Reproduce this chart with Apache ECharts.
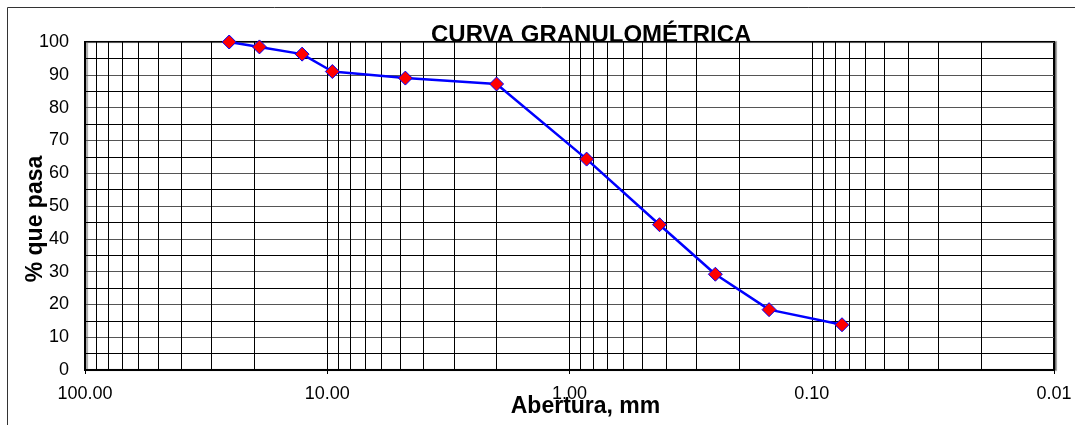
<!DOCTYPE html>
<html>
<head>
<meta charset="utf-8">
<script src="https://cdn.jsdelivr.net/npm/echarts@6/dist/echarts.min.js"></script>
<style>html,body{margin:0;padding:0;background:#fff}#c{width:1075px;height:425px}</style>
</head>
<body>
<div id="c"></div>
<script>
const titleText = 'CURVA GRANULOMÉTRICA';
const xName = 'Abertura, mm';
const yName = '% que pasa';
const sieveSizes = [25.4, 19.05, 12.7, 9.525, 4.76, 2.0, 0.85, 0.425, 0.25, 0.15, 0.075];
const percentPassing = [100, 98.5, 96.3, 91.0, 89.0, 87.2, 64.3, 44.3, 29.2, 18.4, 13.8];
const minorGridValues = [
  0.02,0.03,0.04,0.05,0.06,0.07,0.08,0.09,
  0.2,0.3,0.4,0.5,0.6,0.7,0.8,0.9,
  2,3,4,5,6,7,8,9,
  20,30,40,50,60,70,80,90
];

const FONT = '"Liberation Sans", Arial, sans-serif';
const chart = echarts.init(document.getElementById('c'), null, {renderer:'canvas'});
chart.setOption({
  animation: false,
  backgroundColor: '#fff',
  title: {
    text: titleText,
    left: 426, top: 18,
    textStyle: {fontFamily: FONT, fontWeight: 'bold', fontSize: 24, color: '#000'}
  },
  graphic: [{
    type: 'rect', silent: true, z: -10,
    shape: {x: 7.5, y: 7.5, width: 1200, height: 600},
    style: {fill: 'none', stroke: '#333', lineWidth: 1}
  }],
  grid: {
    left: 85, right: 21, top: 42, bottom: 55,
    outerBoundsMode: 'none', containLabel: false,
    show: true, borderColor: '#000', borderWidth: 2,
    shadowColor: 'rgba(0,0,0,0.35)', shadowOffsetX: 2, shadowOffsetY: 0, shadowBlur: 1,
    backgroundColor: '#fff'
  },
  xAxis: {
    type: 'log', logBase: 10, min: 0.01, max: 100, inverse: true,
    name: xName, nameLocation: 'middle', nameGap: 25, nameMoveOverlap: false,
    nameTextStyle: {fontFamily: FONT, fontWeight: 'bold', fontSize: 23, color: '#000', padding: [0, 0, 0, 32]},
    axisLine: {show: true, lineStyle: {color: '#000', width: 2}},
    axisTick: {show: true, inside: false, length: 4, lineStyle: {color: '#000'}},
    axisLabel: {fontFamily: FONT, fontSize: 18, color: '#000', margin: 15,
      formatter: v => Number(v).toFixed(2)},
    splitLine: {show: true, lineStyle: {color: '#000', width: 1}}
  },
  yAxis: {
    type: 'value', min: 0, max: 100, interval: 10,
    name: yName, nameLocation: 'middle', nameGap: 38, nameRotate: 90, nameMoveOverlap: false,
    nameTextStyle: {fontFamily: FONT, fontWeight: 'bold', fontSize: 23, color: '#000', padding: [0, 26, 0, 0]},
    axisLine: {show: true, lineStyle: {color: '#000', width: 2}},
    axisTick: {show: false},
    axisLabel: {fontFamily: FONT, fontSize: 18, color: '#000', margin: 16},
    splitLine: {show: true, lineStyle: {color: '#555', width: 1}},
    minorTick: {show: false, splitNumber: 2},
    minorSplitLine: {show: true, lineStyle: {color: '#000', width: 1}}
  },
  series: [{
    type: 'line',
    data: sieveSizes.map((s, i) => [s, percentPassing[i]]),
    symbol: 'diamond', symbolSize: 14,
    lineStyle: {color: '#0000ff', width: 2.5},
    itemStyle: {color: '#ff0000', borderColor: '#0000ff', borderWidth: 1},
    z: 5,
    markLine: {
      silent: true, symbol: ['none', 'none'], animation: false,
      label: {show: false},
      lineStyle: {color: '#000', width: 1, type: 'solid'},
      emphasis: {disabled: true},
      data: minorGridValues.map(v => ({xAxis: v}))
    }
  }]
});
</script>
</body>
</html>
